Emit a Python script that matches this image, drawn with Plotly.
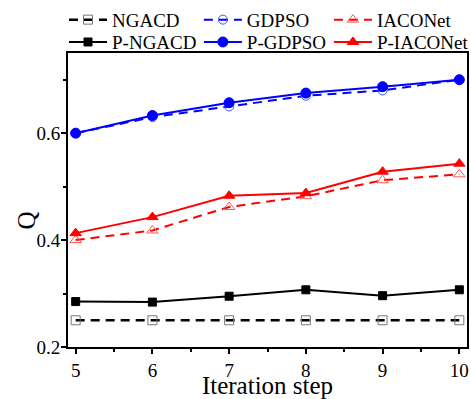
import plotly.graph_objects as go

steps = [5, 6, 7, 8, 9, 10]

ngacd = [0.250, 0.250, 0.250, 0.250, 0.250, 0.250]
gdpso = [0.600, 0.630, 0.650, 0.670, 0.680, 0.700]
iaconet = [0.400, 0.418, 0.462, 0.482, 0.512, 0.523]
p_ngacd = [0.285, 0.284, 0.295, 0.307, 0.296, 0.307]
p_gdpso = [0.600, 0.633, 0.657, 0.675, 0.687, 0.700]
p_iaconet = [0.413, 0.443, 0.483, 0.488, 0.528, 0.543]

FONT = "Times New Roman, Liberation Serif, serif"

# legend slot for each series: (column x in plot fraction, row y in plot fraction)
COLS = [-0.010, 0.328, 0.654]
ROWS = [1.113, 1.037]

fig = go.Figure()

def add(idx, name, y, color, symbol, dash, col, row, mcolor=None, open_=False,
        size=9, width=2):
    lg = "legend" if idx == 1 else f"legend{idx}"
    fig.add_trace(go.Scatter(
        x=steps, y=y, name=name, mode="lines+markers", legend=lg,
        line=dict(color=color, width=width, dash=dash),
        marker=dict(symbol=symbol + ("-open" if open_ else ""), size=size,
                    color=mcolor or color,
                    line=dict(width=1, color=mcolor or color)),
    ))
    fig.update_layout({lg: dict(
        x=COLS[col], y=ROWS[row], xanchor="left", yanchor="middle",
        font=dict(family=FONT, size=19), bgcolor="rgba(0,0,0,0)",
        itemwidth=38, borderwidth=0,
    )})

DASH = "9px,6px"
add(1, "NGACD", ngacd, "black", "square", DASH, 0, 0, mcolor="#777777", open_=True,
    size=9, width=2.5)
add(2, "GDPSO", gdpso, "blue", "circle", DASH, 1, 0, mcolor="#3355ff", open_=True, size=9)
add(3, "IACONet", iaconet, "red", "triangle-up", DASH, 2, 0, mcolor="#ff5555",
    open_=True, size=10)
add(4, "P-NGACD", p_ngacd, "black", "square", "solid", 0, 1, size=8)
add(5, "P-GDPSO", p_gdpso, "blue", "circle", "solid", 1, 1, size=10)
add(6, "P-IACONet", p_iaconet, "red", "triangle-up", "solid", 2, 1, size=10)

fig.update_layout(
    width=471, height=399,
    margin=dict(l=68, r=4, t=53, b=52, autoexpand=False),
    plot_bgcolor="white", paper_bgcolor="white",
    font=dict(family=FONT, size=19, color="black"),
    showlegend=True,
    xaxis=dict(range=[4.9, 10.1], tickvals=steps, showline=True, linecolor="black",
               linewidth=2, mirror=True, ticks="outside", ticklen=5, tickwidth=2,
               tickcolor="black", showgrid=False, zeroline=False,
               minor=dict(dtick=0.5, tick0=5, ticks="outside", ticklen=3, tickwidth=2,
                          tickcolor="black", showgrid=False),
               title=dict(text="Iteration step", font=dict(size=25), standoff=4),
               tickfont=dict(size=19)),
    yaxis=dict(range=[0.2, 0.75], tickvals=[0.2, 0.4, 0.6], ticktext=["0.2", "0.4", "0.6"],
               showline=True, linecolor="black", linewidth=2, mirror=True,
               ticks="outside", ticklen=5, tickwidth=2, tickcolor="black",
               showgrid=False, zeroline=False, ticklabelstandoff=-3,
               minor=dict(tickvals=[0.3, 0.5, 0.7], ticks="outside", ticklen=3,
                          tickwidth=2, tickcolor="black", showgrid=False),
               tickfont=dict(size=19)),
    annotations=[dict(text="Q", xref="paper", yref="paper", x=-0.103, y=0.43,
                      xanchor="center", yanchor="middle", textangle=-90,
                      showarrow=False, font=dict(family=FONT, size=25))],
)

fig.write_html("out.html")
